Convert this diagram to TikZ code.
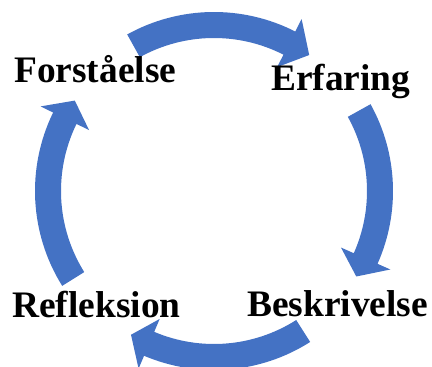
\documentclass[tikz,border=0pt]{standalone}
\usepackage{fontspec}
\setmainfont{Liberation Serif}
\usepackage{tikz}
\usetikzlibrary{calc}
\definecolor{bleu}{HTML}{4472C4}
\tikzset{
	fleche/.style={fill=bleu, draw=none},
	etape/.style={font=\fontsize{37.4bp}{40bp}\selectfont\bfseries, inner sep=0pt, anchor=base west}
}
% arc fleche : debut, barbes, pointe
\newcommand{\flechecycle}[3]{%
	\fill[fleche] (#1:\rout) arc[start angle=#1, end angle=#2, radius=\rout]
		-- (#2:\rbo) -- (#3:\rtip) -- (#2:\rbi) -- (#2:\rin)
		arc[start angle=#2, end angle=#1, radius=\rin] -- cycle;}

\begin{document}
\begin{tikzpicture}[x=1bp,y=1bp]
	\def\rout{179bp}
	\def\rin{153bp}
	\def\rbo{193bp}
	\def\rbi{139bp}
	\def\rtip{166bp}
\useasboundingbox (0,0) rectangle (432,367);

%Centre du cycle
\coordinate (O) at (214,176);

%Fleches
\begin{scope}[shift={(O)}]
	\flechecycle{119}{63}{55}
	\flechecycle{29}{-24}{-31}
	\flechecycle{-57.5}{-113}{-120}
	\flechecycle{212}{154}{147}
\end{scope}

%Etapes
\node[etape] (forst) at (14,285) {Forståelse};
\node[etape] (erf) at (271,277) {Erfaring};
\node[etape] (besk) at (247,51) {Beskrivelse};
\node[etape] (refl) at (12,50) {Refleksion};

\end{tikzpicture}
\end{document}
